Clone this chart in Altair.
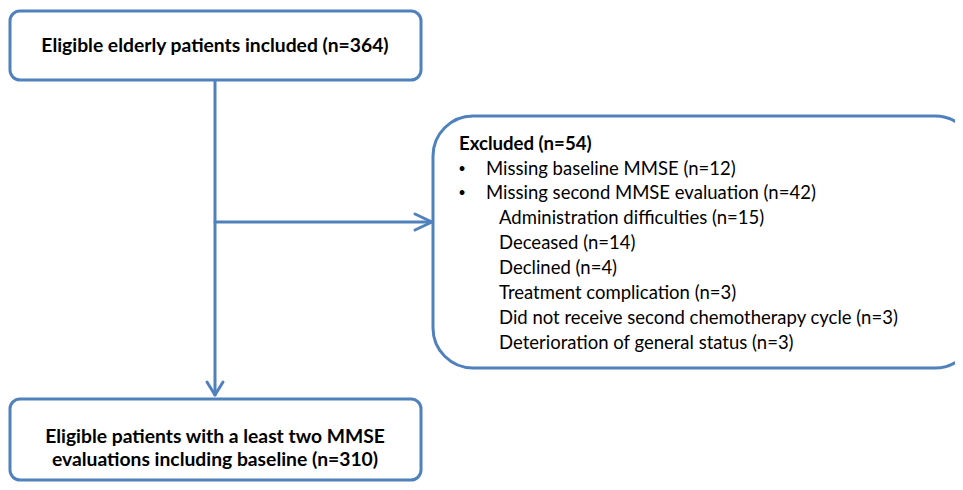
import altair as alt
import pandas as pd

BLUE = "#4f81bd"
FONT = "Lato"

# ---- texts ----
top_label = ["Eligible elderly patients included (n=364)"]
bottom_label = ["Eligible patients with a least two MMSE",
                "evaluations including baseline (n=310)"]
excl_title = ["Excluded (n=54)"]
excl_items = ["Missing baseline MMSE (n=12)",
              "Missing second MMSE evaluation (n=42)"]
excl_sub = ["Administration difficulties (n=15)",
            "Deceased (n=14)",
            "Declined (n=4)",
            "Treatment complication (n=3)",
            "Did not receive second chemotherapy cycle (n=3)",
            "Deterioration of general status (n=3)"]

# ---- layout (page pixel coordinates) ----
X0, X1 = 8, 955
Y0, Y1 = 8, 482
box_x = [10, 10]
box_x2 = [421, 421]
box_y = [11, 399]
box_y2 = [80, 480]
big_box = dict(x=[433], x2=[975], y=[116], y2=[368])

seg_x = [215, 215, 415, 415, 207, 223]
seg_x2 = [215, 432, 432, 432, 215, 215]
seg_y = [80, 222, 214, 230, 382, 382]
seg_y2 = [394, 222, 222, 222, 395, 395]

xs = alt.Scale(domain=[X0, X1], nice=False, zero=False)
ys = alt.Scale(domain=[Y0, Y1], nice=False, zero=False, reverse=True)
noax = None

boxes = pd.DataFrame(dict(x=box_x, x2=box_x2, y=box_y, y2=box_y2))
bigdf = pd.DataFrame(big_box)
segs = pd.DataFrame(dict(x=seg_x, x2=seg_x2, y=seg_y, y2=seg_y2))

def rect_layer(df, r):
    return alt.Chart(df).mark_rect(
        fill="white", stroke=BLUE, strokeWidth=3, cornerRadius=r
    ).encode(
        x=alt.X("x:Q", scale=xs, axis=noax), x2="x2:Q",
        y=alt.Y("y:Q", scale=ys, axis=noax), y2="y2:Q",
    )

rules = alt.Chart(segs).mark_rule(color=BLUE, strokeWidth=3, strokeCap="round").encode(
    x=alt.X("x:Q", scale=xs, axis=noax), x2="x2:Q",
    y=alt.Y("y:Q", scale=ys, axis=noax), y2="y2:Q",
)

center_text = pd.DataFrame(dict(
    t=top_label + bottom_label,
    x=[215, 215, 215],
    y=[46, 437, 460],
))
center_layer = alt.Chart(center_text).mark_text(
    font=FONT, fontSize=19.3, fontWeight="bold", align="center", baseline="middle", color="black"
).encode(x=alt.X("x:Q", scale=xs, axis=noax), y=alt.Y("y:Q", scale=ys, axis=noax), text="t:N")

title_df = pd.DataFrame(dict(t=excl_title, x=[459], y=[144]))
title_layer = alt.Chart(title_df).mark_text(
    font=FONT, fontSize=18.6, fontWeight="bold", align="left", baseline="middle", color="black"
).encode(x=alt.X("x:Q", scale=xs, axis=noax), y=alt.Y("y:Q", scale=ys, axis=noax), text="t:N")

item_y = [169, 193]
sub_y = [218, 243, 268, 293, 318, 343]
bullet_df = pd.DataFrame(dict(t=["•", "•"], x=[462, 462], y=item_y))
bullet_layer = alt.Chart(bullet_df).mark_text(
    font=FONT, fontSize=13, align="center", baseline="middle", color="black"
).encode(x=alt.X("x:Q", scale=xs, axis=noax), y=alt.Y("y:Q", scale=ys, axis=noax), text="t:N")

body_df = pd.DataFrame(dict(
    t=excl_items + excl_sub,
    x=[486, 486] + [499] * len(excl_sub),
    y=item_y + sub_y,
))
body_layer = alt.Chart(body_df).mark_text(
    font=FONT, fontSize=18.5, align="left", baseline="middle", color="black"
).encode(x=alt.X("x:Q", scale=xs, axis=noax), y=alt.Y("y:Q", scale=ys, axis=noax), text="t:N")

chart = alt.layer(
    rules, rect_layer(boxes, 10), rect_layer(bigdf, 40),
    center_layer, title_layer, bullet_layer, body_layer
).properties(
    width=X1 - X0, height=Y1 - Y0, padding=0, autosize=alt.AutoSizeParams(type="none")
).configure_view(strokeWidth=0)

chart.save("out.html", embed_options={"renderer": "svg", "actions": False})
